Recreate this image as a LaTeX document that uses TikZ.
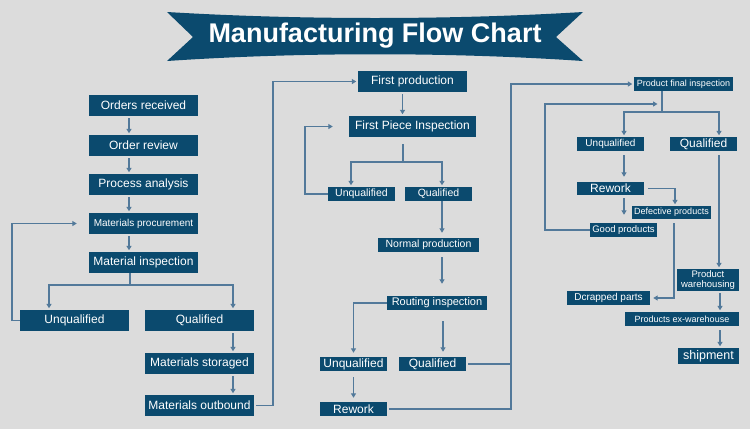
\documentclass[tikz,border=0pt]{standalone}
\usepackage{fontspec}
\setmainfont{Liberation Sans}
\usetikzlibrary{arrows.meta}
\definecolor{boxblue}{HTML}{0B4A6E}
\definecolor{wire}{HTML}{52799A}
\definecolor{paper}{HTML}{DCDCDC}

\begin{document}
\begin{tikzpicture}[x=1pt,y=-1pt,
    link/.style={draw=wire, line width=1.8pt},
    linkarrow/.style={link, shorten >=1.5pt, -{Triangle[length=4.5pt,width=5pt]}}]

      \fill[paper] (0,0) rectangle (750,429);
      \useasboundingbox (0,0) rectangle (750,429);

      % title ribbon
      \fill[boxblue] (167,12) .. controls (300,20) and (450,20) .. (583,12) -- (556,37) -- (583,61)
        .. controls (450,52) and (300,52) .. (167,61) -- (193,37) -- cycle;
      \node[text=white, font=\fontsize{27}{30}\selectfont\bfseries] (title) at (375,36) {Manufacturing Flow Chart};

      \begin{scope}[every node/.style={fill=boxblue, text=white, inner sep=0pt, font=\fontsize{12}{13}\selectfont}]
        % left column
        \node[minimum width=109pt, minimum height=21pt] (1) at (143.5,105.5) {Orders received};
        \node[minimum width=109pt, minimum height=21pt] (2) at (143.5,145.5) {Order review};
        \node[minimum width=109pt, minimum height=21pt] (3) at (143.5,184.5) {Process analysis};
        \node[minimum width=109pt, minimum height=21pt, font=\fontsize{10}{11}\selectfont] (4) at (143.5,223.5) {Materials procurement};
        \node[minimum width=109pt, minimum height=21pt] (5) at (143.5,262.5) {Material inspection};
        \node[minimum width=109pt, minimum height=21pt] (6) at (74.5,320.5) {Unqualified};
        \node[minimum width=109pt, minimum height=21pt] (7) at (199.5,320.5) {Qualified};
        \node[minimum width=109pt, minimum height=21pt] (8) at (199.5,363.5) {Materials storaged};
        \node[minimum width=109pt, minimum height=21pt] (9) at (199.5,405.5) {Materials outbound};
        % middle column
        \node[minimum width=109pt, minimum height=21pt] (10) at (412.5,81.5) {First production};
        \node[minimum width=127pt, minimum height=21pt] (11) at (412.5,126.5) {First Piece Inspection};
        \node[minimum width=67pt, minimum height=14pt, font=\fontsize{10.5}{12}\selectfont] (12) at (361.5,194) {Unqualified};
        \node[minimum width=67pt, minimum height=14pt, font=\fontsize{10.5}{12}\selectfont] (13) at (438.5,194) {Qualified};
        \node[minimum width=101pt, minimum height=14pt, font=\fontsize{10.5}{12}\selectfont] (14) at (428.5,245) {Normal production};
        \node[minimum width=100pt, minimum height=14pt, font=\fontsize{11}{12}\selectfont] (15) at (437,303) {Routing inspection};
        \node[minimum width=67pt, minimum height=14pt] (16) at (353.5,364) {Unqualified};
        \node[minimum width=67pt, minimum height=14pt] (17) at (432.5,364) {Qualified};
        \node[minimum width=67pt, minimum height=14pt] (18) at (353.5,409) {Rework};
        % right column
        \node[minimum width=99pt, minimum height=14pt, font=\fontsize{9}{10}\selectfont] (19) at (683.5,84) {Product final inspection};
        \node[minimum width=67pt, minimum height=14pt, font=\fontsize{10}{11}\selectfont] (20) at (610.5,144) {Unqualified};
        \node[minimum width=67pt, minimum height=14pt] (21) at (703.5,144) {Qualified};
        \node[minimum width=67pt, minimum height=13pt] (22) at (610.5,188.5) {Rework};
        \node[minimum width=79pt, minimum height=13pt, font=\fontsize{9}{10}\selectfont] (23) at (671.5,212.5) {Defective products};
        \node[minimum width=67pt, minimum height=14pt, font=\fontsize{9.5}{10}\selectfont] (24) at (623.5,230) {Good products};
        \node[minimum width=62pt, minimum height=22pt, align=center, font=\fontsize{9.5}{10.5}\selectfont] (25) at (708,280) {Product\\warehousing};
        \node[minimum width=83pt, minimum height=14pt, font=\fontsize{10}{11}\selectfont] (26) at (608.5,298) {Dcrapped parts};
        \node[minimum width=114pt, minimum height=14pt, font=\fontsize{9}{10}\selectfont] (27) at (682,319) {Products ex-warehouse};
        \node[minimum width=61pt, minimum height=16pt, font=\fontsize{12.5}{13}\selectfont] (28) at (708.5,356) {shipment};
      \end{scope}

      % left column
      \draw[linkarrow, shorten <=2pt] ([xshift=-14.5pt]1.south) -- ([xshift=-14.5pt]2.north);
      \draw[linkarrow, shorten <=2pt] ([xshift=-14.5pt]2.south) -- ([xshift=-14.5pt]3.north);
      \draw[linkarrow, shorten <=2pt] ([xshift=-14.5pt]3.south) -- ([xshift=-14.5pt]4.north);
      \draw[linkarrow, shorten <=2pt] ([xshift=-14.5pt]4.south) -- ([xshift=-14.5pt]5.north);
      \coordinate (a) at (130,285);
      \draw[link] ([xshift=-13.5pt]5.south) -- (a);
      \draw[linkarrow] (a) -| ([xshift=-25.5pt]6.north);
      \draw[linkarrow] (a) -| ([xshift=33.5pt]7.north);
      \draw[linkarrow, shorten >=12pt] (6.west) -- ++(-8,0) |- (4.west);
      \draw[linkarrow, shorten <=2pt] ([xshift=33.5pt]7.south) -- ([xshift=33.5pt]8.north);
      \draw[linkarrow, shorten <=2pt] ([xshift=33.5pt]8.south) -- ([xshift=33.5pt]9.north);
      \draw[linkarrow, shorten <=2pt] (9.east) -- ++(19,0) |- (10.west);

      % middle column
      \draw[linkarrow, shorten <=2pt] ([xshift=-10pt]10.south) -- ([xshift=-10pt]11.north);
      \coordinate (b) at (403,162);
      \draw[link, shorten <=7pt] (11.south -| b) -- (b);
      \draw[linkarrow] (b) -| ([xshift=-10.5pt]12.north);
      \draw[linkarrow] (b) -| ([xshift=3.5pt]13.north);
      \draw[linkarrow, shorten >=16pt] (12.west) -- ++(-23,0) |- (11.west);
      \draw[linkarrow, shorten >=5pt] ([xshift=3.5pt]13.south) -- ([xshift=13.5pt]14.north);
      \draw[linkarrow, shorten <=5pt, shorten >=12pt] ([xshift=13.5pt]14.south) -- ([xshift=5pt]15.north);
      \draw[linkarrow, shorten >=4pt] (15.west) -| (16.north);
      \draw[linkarrow, shorten <=11pt, shorten >=5pt] ([xshift=6pt]15.south) -- ([xshift=10.5pt]17.north);
      \draw[linkarrow, shorten <=6pt, shorten >=4pt] (16.south) -- (18.north);
      \coordinate (c) at (511,364);
      \draw[link, shorten <=2pt] (17.east) -- (c);
      \draw[linkarrow, shorten <=2pt] (18.east) -| (c) |- (19.west);

      % right column
      \coordinate (d) at (662,112);
      \coordinate (e) at (659,104);
      \draw[link] (19.south -| d) -- (d);
      \draw[linkarrow] (d) -| ([xshift=13.5pt]20.north);
      \draw[linkarrow] (d) -| ([xshift=15.5pt]21.north);
      \draw[linkarrow] (24.west) -- ++(-45,0) |- (e);
      \draw[linkarrow, shorten <=4pt, shorten >=5pt] ([xshift=13.5pt]20.south) -- ([xshift=13.5pt]22.north);
      \draw[linkarrow, shorten <=3pt, shorten >=8pt] ([xshift=13.5pt]22.south) -- ([xshift=0.5pt]24.north);
      \draw[linkarrow, shorten <=4pt] (22.east) -| ([xshift=3.5pt]23.north);
      \draw[linkarrow, shorten <=4pt] ([xshift=15.5pt]21.south) -- ([xshift=11pt]25.north);
      \draw[linkarrow, shorten <=4pt, shorten >=3pt] ([xshift=2.5pt]23.south) |- (26.east);
      \draw[linkarrow, shorten <=2pt] ([xshift=12pt]25.south) -- ([xshift=38pt]27.north);
      \draw[linkarrow, shorten <=4pt] ([xshift=38pt]27.south) -- ([xshift=11.5pt]28.north);

    \end{tikzpicture}
\end{document}
